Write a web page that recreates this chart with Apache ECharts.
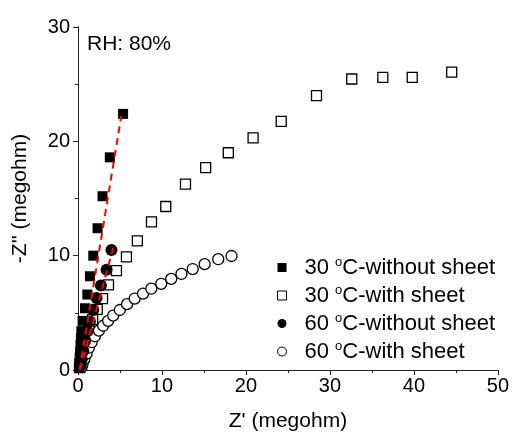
<!DOCTYPE html>
<html><head><meta charset="utf-8">
<script src="https://cdn.jsdelivr.net/npm/echarts@6/dist/echarts.min.js"></script>
<style>html,body{margin:0;padding:0;background:#fff}#c{width:512px;height:437px}</style>
</head><body><div id="c"></div>
<script>
var xTicks = [0, 10, 20, 30, 40, 50];
var yTicks = [0, 10, 20, 30];
var names = ['30 °C-without sheet', '30 °C-with sheet', '60 °C-without sheet', '60 °C-with sheet'];
var s30without = [[0.1,0.2],[0.15,0.6],[0.2,1.1],[0.25,1.6],[0.3,2.2],[0.35,2.8],[0.4,3.4],[0.55,4.3],[0.83,5.4],[1.11,6.6],[1.42,8.2],[1.82,10.0],[2.33,12.4],[2.92,15.2],[3.79,18.6],[5.37,22.4]];
var s30with = [[0.2,0.2],[0.3,0.5],[0.4,0.9],[0.55,1.4],[0.75,2.0],[1.0,2.7],[1.3,3.5],[1.74,4.4],[2.29,5.3],[2.92,6.25],[3.63,7.45],[4.58,8.7],[5.77,9.9],[7.07,11.3],[8.75,12.95],[10.45,14.3],[12.8,16.25],[15.2,17.7],[17.9,19.0],[20.85,20.3],[24.2,21.75],[28.4,24.0],[32.6,25.45],[36.3,25.6],[39.8,25.6],[44.5,26.05]];
var s60without = [[0.32,0.37],[0.44,0.95],[0.63,1.66],[0.83,2.52],[1.11,3.38],[1.42,4.24],[1.82,5.25],[2.21,6.3],[2.73,7.39],[3.40,8.77],[3.99,10.5]];
var s60with = [[0.43,0.25],[0.55,0.52],[0.75,0.95],[1.03,1.44],[1.30,1.95],[1.62,2.43],[2.01,2.95],[2.49,3.44],[3.0,3.87],[3.59,4.30],[4.19,4.76],[4.98,5.25],[5.84,5.76],[6.75,6.25],[7.74,6.68],[8.73,7.11],[9.91,7.54],[11.1,7.97],[12.32,8.4],[13.66,8.83],[15.08,9.26],[16.7,9.69],[18.28,9.97]];
var fit1 = [[0.2,0],[5.15,22.2]];
var fit2 = [[0.25,0],[4.2,10.7]];

var chart = echarts.init(document.getElementById('c'));
var font = 'Liberation Sans, Arial, sans-serif';
var FS = 21, TS = 20, LS = 22;
var axisCommon = {
  min: 0, interval: 10,
  axisLine: {show: true, lineStyle: {color: '#222', width: 1}},
  splitLine: {show: false},
};
var hollow = {color: '#fff', borderColor: '#000', borderWidth: 1};
chart.setOption({
  animation: false,
  backgroundColor: '#fff',
  textStyle: {fontFamily: font},
  title: {text: 'RH: 80%', left: 87, top: 34, padding: 0, textStyle: {fontSize: FS, fontWeight: 'normal', color: '#000', fontFamily: font}},
  grid: {left: 78, right: 12, top: 27, bottom: 61, containLabel: false},
  legend: {
    data: [
      {name: names[0], itemStyle: {color: '#000', borderWidth: 0}},
      {name: names[1], itemStyle: hollow},
      {name: names[2], itemStyle: {color: '#000', borderWidth: 0}},
      {name: names[3], itemStyle: hollow}
    ],
    orient: 'vertical', left: 277, top: 256, itemGap: 5, padding: 0,
    itemWidth: 9, itemHeight: 9,
    formatter: function (n) { return n.replace('°', '{sup|o}'); },
    textStyle: {fontSize: LS, color: '#000', fontFamily: font, padding: [0, 0, 0, 13],
      rich: {sup: {fontSize: 13, fontFamily: font, color: '#000', verticalAlign: 'top', lineHeight: 23, padding: [0, 0, 10, 0]}}}
  },
  xAxis: [
    Object.assign({}, axisCommon, {type: 'value', max: 50, position: 'bottom',
      name: "Z' (megohm)", nameLocation: 'middle', nameGap: 41,
      nameTextStyle: {fontSize: FS, color: '#000', fontFamily: font},
      axisTick: {show: true, length: 5, inside: false, lineStyle: {color: '#222'}},
      minorTick: {show: true, splitNumber: 2, length: 3, lineStyle: {color: '#222'}},
      axisLabel: {fontSize: TS, color: '#000', margin: 6, fontFamily: font,
        formatter: function (v) { return xTicks.indexOf(v) >= 0 ? String(v) : ''; }}}),
    Object.assign({}, axisCommon, {type: 'value', max: 50, position: 'top',
      axisTick: {show: true, length: 5, inside: true, lineStyle: {color: '#222'}},
      minorTick: {show: true, splitNumber: 2, length: 3, lineStyle: {color: '#222'}},
      axisLabel: {show: false}})
  ],
  yAxis: [
    Object.assign({}, axisCommon, {type: 'value', max: 30, position: 'left',
      name: "-Z'' (megohm)", nameLocation: 'middle', nameGap: 47, nameRotate: 90,
      nameTextStyle: {fontSize: FS, color: '#000', fontFamily: font},
      axisTick: {show: true, length: 5, inside: false, lineStyle: {color: '#222'}},
      minorTick: {show: true, splitNumber: 2, length: 3, lineStyle: {color: '#222'}},
      axisLabel: {fontSize: TS, color: '#000', margin: 8, fontFamily: font,
        formatter: function (v) { return yTicks.indexOf(v) >= 0 ? String(v) : ''; }}}),
    Object.assign({}, axisCommon, {type: 'value', max: 30, position: 'right',
      axisTick: {show: true, length: 5, inside: true, lineStyle: {color: '#222'}},
      minorTick: {show: true, splitNumber: 2, length: 3, lineStyle: {color: '#222'}},
      axisLabel: {show: false}})
  ],
  series: [
    {name: names[1], type: 'scatter', data: s30with, symbol: 'rect', symbolSize: 10,
      itemStyle: {color: '#fff', borderColor: '#000', borderWidth: 1.3, opacity: 1}},
    {name: names[3], type: 'scatter', data: s60with, symbol: 'circle', symbolSize: 11,
      itemStyle: {color: '#fff', borderColor: '#000', borderWidth: 1.3, opacity: 1}},
    {name: names[0], type: 'scatter', data: s30without, symbol: 'rect', symbolSize: 10,
      itemStyle: {color: '#000', opacity: 1}},
    {name: names[2], type: 'scatter', data: s60without, symbol: 'circle', symbolSize: 12,
      itemStyle: {color: '#000', opacity: 1}},
    {name: 'fit1', type: 'line', data: fit1, symbol: 'none', z: 5,
      lineStyle: {color: '#f00', width: 2, type: [7, 5]}},
    {name: 'fit2', type: 'line', data: fit2, symbol: 'none', z: 5,
      lineStyle: {color: '#f00', width: 2, type: [7, 5]}}
  ]
});
</script></body></html>
